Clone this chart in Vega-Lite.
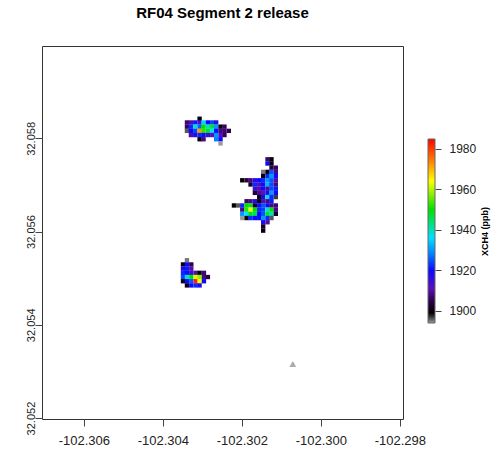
{
  "$schema": "https://vega.github.io/schema/vega-lite/v6.json",
  "width": 361,
  "height": 373,
  "autosize": {"type": "none"},
  "padding": {"left": 42, "top": 46, "right": 95, "bottom": 37},
  "background": "white",
  "title": {"text": "RF04 Segment 2 release", "fontSize": 15, "fontWeight": "bold", "font": "Liberation Sans", "color": "#000000", "anchor": "middle", "offset": 25},
  "config": {
    "view": {"stroke": "#333333", "strokeWidth": 1},
    "font": "Liberation Sans"
  },
  "resolve": {"scale": {"x": "independent", "y": "independent"}},
  "layer": [
    {
      "layer": [
        {
          "data": {"values": [
            {"lon": -102.30307, "lat": 32.05842, "xch4": 1899},
            {"lon": -102.30339, "lat": 32.05834, "xch4": 1907},
            {"lon": -102.30329, "lat": 32.05834, "xch4": 1910},
            {"lon": -102.30318, "lat": 32.05834, "xch4": 1921},
            {"lon": -102.30307, "lat": 32.05834, "xch4": 1913},
            {"lon": -102.30297, "lat": 32.05834, "xch4": 1935},
            {"lon": -102.30286, "lat": 32.05834, "xch4": 1920},
            {"lon": -102.30275, "lat": 32.05834, "xch4": 1924},
            {"lon": -102.30265, "lat": 32.05834, "xch4": 1916},
            {"lon": -102.30339, "lat": 32.05825, "xch4": 1906},
            {"lon": -102.30329, "lat": 32.05825, "xch4": 1922},
            {"lon": -102.30318, "lat": 32.05825, "xch4": 1938},
            {"lon": -102.30307, "lat": 32.05825, "xch4": 1926},
            {"lon": -102.30297, "lat": 32.05825, "xch4": 1950},
            {"lon": -102.30286, "lat": 32.05825, "xch4": 1940},
            {"lon": -102.30275, "lat": 32.05825, "xch4": 1948},
            {"lon": -102.30265, "lat": 32.05825, "xch4": 1930},
            {"lon": -102.30254, "lat": 32.05825, "xch4": 1900},
            {"lon": -102.30244, "lat": 32.05825, "xch4": 1906},
            {"lon": -102.30339, "lat": 32.05816, "xch4": 1896},
            {"lon": -102.30329, "lat": 32.05816, "xch4": 1920},
            {"lon": -102.30318, "lat": 32.05816, "xch4": 1924},
            {"lon": -102.30307, "lat": 32.05816, "xch4": 1972},
            {"lon": -102.30297, "lat": 32.05816, "xch4": 1952},
            {"lon": -102.30286, "lat": 32.05816, "xch4": 1947},
            {"lon": -102.30275, "lat": 32.05816, "xch4": 1936},
            {"lon": -102.30265, "lat": 32.05816, "xch4": 1920},
            {"lon": -102.30254, "lat": 32.05816, "xch4": 1908},
            {"lon": -102.30244, "lat": 32.05816, "xch4": 1907},
            {"lon": -102.30233, "lat": 32.05816, "xch4": 1905},
            {"lon": -102.30329, "lat": 32.05807, "xch4": 1910},
            {"lon": -102.30318, "lat": 32.05807, "xch4": 1918},
            {"lon": -102.30307, "lat": 32.05807, "xch4": 1922},
            {"lon": -102.30297, "lat": 32.05807, "xch4": 1920},
            {"lon": -102.30286, "lat": 32.05807, "xch4": 1915},
            {"lon": -102.30275, "lat": 32.05807, "xch4": 1912},
            {"lon": -102.30265, "lat": 32.05807, "xch4": 1930},
            {"lon": -102.30254, "lat": 32.05807, "xch4": 1912},
            {"lon": -102.30244, "lat": 32.05807, "xch4": 1906},
            {"lon": -102.30307, "lat": 32.05798, "xch4": 1900},
            {"lon": -102.30297, "lat": 32.05798, "xch4": 1908},
            {"lon": -102.30265, "lat": 32.05798, "xch4": 1928},
            {"lon": -102.30254, "lat": 32.05798, "xch4": 1920},
            {"lon": -102.30254, "lat": 32.05789, "xch4": 1894},

            {"lon": -102.30135, "lat": 32.05755, "xch4": 1907},
            {"lon": -102.30125, "lat": 32.05755, "xch4": 1900},
            {"lon": -102.30135, "lat": 32.05746, "xch4": 1920},
            {"lon": -102.30125, "lat": 32.05746, "xch4": 1900},
            {"lon": -102.30125, "lat": 32.05737, "xch4": 1904},
            {"lon": -102.30114, "lat": 32.05737, "xch4": 1906},
            {"lon": -102.30146, "lat": 32.05728, "xch4": 1895},
            {"lon": -102.30135, "lat": 32.05728, "xch4": 1900},
            {"lon": -102.30125, "lat": 32.05728, "xch4": 1925},
            {"lon": -102.30114, "lat": 32.05728, "xch4": 1908},
            {"lon": -102.30146, "lat": 32.05719, "xch4": 1900},
            {"lon": -102.30135, "lat": 32.05719, "xch4": 1922},
            {"lon": -102.30125, "lat": 32.05719, "xch4": 1930},
            {"lon": -102.30114, "lat": 32.05719, "xch4": 1920},
            {"lon": -102.30199, "lat": 32.05710, "xch4": 1899},
            {"lon": -102.30188, "lat": 32.05710, "xch4": 1904},
            {"lon": -102.30178, "lat": 32.05710, "xch4": 1908},
            {"lon": -102.30167, "lat": 32.05710, "xch4": 1917},
            {"lon": -102.30156, "lat": 32.05710, "xch4": 1920},
            {"lon": -102.30146, "lat": 32.05710, "xch4": 1922},
            {"lon": -102.30135, "lat": 32.05710, "xch4": 1930},
            {"lon": -102.30125, "lat": 32.05710, "xch4": 1925},
            {"lon": -102.30114, "lat": 32.05710, "xch4": 1910},
            {"lon": -102.30178, "lat": 32.05701, "xch4": 1902},
            {"lon": -102.30167, "lat": 32.05701, "xch4": 1922},
            {"lon": -102.30156, "lat": 32.05701, "xch4": 1912},
            {"lon": -102.30146, "lat": 32.05701, "xch4": 1920},
            {"lon": -102.30135, "lat": 32.05701, "xch4": 1932},
            {"lon": -102.30125, "lat": 32.05701, "xch4": 1924},
            {"lon": -102.30114, "lat": 32.05701, "xch4": 1908},
            {"lon": -102.30167, "lat": 32.05692, "xch4": 1915},
            {"lon": -102.30156, "lat": 32.05692, "xch4": 1910},
            {"lon": -102.30146, "lat": 32.05692, "xch4": 1920},
            {"lon": -102.30135, "lat": 32.05692, "xch4": 1909},
            {"lon": -102.30125, "lat": 32.05692, "xch4": 1924},
            {"lon": -102.30114, "lat": 32.05692, "xch4": 1921},
            {"lon": -102.30167, "lat": 32.05683, "xch4": 1903},
            {"lon": -102.30156, "lat": 32.05683, "xch4": 1909},
            {"lon": -102.30146, "lat": 32.05683, "xch4": 1911},
            {"lon": -102.30135, "lat": 32.05683, "xch4": 1918},
            {"lon": -102.30125, "lat": 32.05683, "xch4": 1930},
            {"lon": -102.30114, "lat": 32.05683, "xch4": 1920},
            {"lon": -102.30156, "lat": 32.05674, "xch4": 1900},
            {"lon": -102.30146, "lat": 32.05674, "xch4": 1918},
            {"lon": -102.30135, "lat": 32.05674, "xch4": 1937},
            {"lon": -102.30125, "lat": 32.05674, "xch4": 1922},
            {"lon": -102.30114, "lat": 32.05674, "xch4": 1897},
            {"lon": -102.30188, "lat": 32.05665, "xch4": 1906},
            {"lon": -102.30178, "lat": 32.05665, "xch4": 1908},
            {"lon": -102.30167, "lat": 32.05665, "xch4": 1918},
            {"lon": -102.30156, "lat": 32.05665, "xch4": 1900},
            {"lon": -102.30146, "lat": 32.05665, "xch4": 1910},
            {"lon": -102.30135, "lat": 32.05665, "xch4": 1908},
            {"lon": -102.30125, "lat": 32.05665, "xch4": 1921},
            {"lon": -102.30220, "lat": 32.05656, "xch4": 1899},
            {"lon": -102.30210, "lat": 32.05656, "xch4": 1896},
            {"lon": -102.30199, "lat": 32.05656, "xch4": 1922},
            {"lon": -102.30188, "lat": 32.05656, "xch4": 1950},
            {"lon": -102.30178, "lat": 32.05656, "xch4": 1948},
            {"lon": -102.30167, "lat": 32.05656, "xch4": 1902},
            {"lon": -102.30156, "lat": 32.05656, "xch4": 1920},
            {"lon": -102.30146, "lat": 32.05656, "xch4": 1925},
            {"lon": -102.30135, "lat": 32.05656, "xch4": 1920},
            {"lon": -102.30125, "lat": 32.05656, "xch4": 1908},
            {"lon": -102.30114, "lat": 32.05656, "xch4": 1907},
            {"lon": -102.30199, "lat": 32.05647, "xch4": 1908},
            {"lon": -102.30188, "lat": 32.05647, "xch4": 1952},
            {"lon": -102.30178, "lat": 32.05647, "xch4": 1963},
            {"lon": -102.30167, "lat": 32.05647, "xch4": 1950},
            {"lon": -102.30156, "lat": 32.05647, "xch4": 1922},
            {"lon": -102.30146, "lat": 32.05647, "xch4": 1924},
            {"lon": -102.30135, "lat": 32.05647, "xch4": 1938},
            {"lon": -102.30125, "lat": 32.05647, "xch4": 1950},
            {"lon": -102.30114, "lat": 32.05647, "xch4": 1908},
            {"lon": -102.30199, "lat": 32.05638, "xch4": 1930},
            {"lon": -102.30188, "lat": 32.05638, "xch4": 1936},
            {"lon": -102.30178, "lat": 32.05638, "xch4": 1948},
            {"lon": -102.30167, "lat": 32.05638, "xch4": 1946},
            {"lon": -102.30156, "lat": 32.05638, "xch4": 1920},
            {"lon": -102.30146, "lat": 32.05638, "xch4": 1925},
            {"lon": -102.30135, "lat": 32.05638, "xch4": 1948},
            {"lon": -102.30125, "lat": 32.05638, "xch4": 1940},
            {"lon": -102.30114, "lat": 32.05638, "xch4": 1902},
            {"lon": -102.30199, "lat": 32.05629, "xch4": 1894},
            {"lon": -102.30188, "lat": 32.05629, "xch4": 1900},
            {"lon": -102.30178, "lat": 32.05629, "xch4": 1922},
            {"lon": -102.30167, "lat": 32.05629, "xch4": 1920},
            {"lon": -102.30156, "lat": 32.05629, "xch4": 1920},
            {"lon": -102.30146, "lat": 32.05629, "xch4": 1930},
            {"lon": -102.30135, "lat": 32.05629, "xch4": 1922},
            {"lon": -102.30125, "lat": 32.05629, "xch4": 1896},
            {"lon": -102.30146, "lat": 32.05620, "xch4": 1918},
            {"lon": -102.30135, "lat": 32.05620, "xch4": 1910},
            {"lon": -102.30146, "lat": 32.05611, "xch4": 1902},
            {"lon": -102.30146, "lat": 32.05602, "xch4": 1900},

            {"lon": -102.30339, "lat": 32.055385, "xch4": 1895},
            {"lon": -102.30349, "lat": 32.055295, "xch4": 1900},
            {"lon": -102.30339, "lat": 32.055295, "xch4": 1920},
            {"lon": -102.30328, "lat": 32.055295, "xch4": 1905},
            {"lon": -102.30349, "lat": 32.055205, "xch4": 1918},
            {"lon": -102.30339, "lat": 32.055205, "xch4": 1921},
            {"lon": -102.30328, "lat": 32.055205, "xch4": 1910},
            {"lon": -102.30349, "lat": 32.055115, "xch4": 1922},
            {"lon": -102.30339, "lat": 32.055115, "xch4": 1920},
            {"lon": -102.30328, "lat": 32.055115, "xch4": 1915},
            {"lon": -102.30317, "lat": 32.055115, "xch4": 1910},
            {"lon": -102.30307, "lat": 32.055115, "xch4": 1900},
            {"lon": -102.30296, "lat": 32.055115, "xch4": 1907},
            {"lon": -102.30349, "lat": 32.055025, "xch4": 1924},
            {"lon": -102.30339, "lat": 32.055025, "xch4": 1938},
            {"lon": -102.30328, "lat": 32.055025, "xch4": 1950},
            {"lon": -102.30317, "lat": 32.055025, "xch4": 1962},
            {"lon": -102.30307, "lat": 32.055025, "xch4": 1958},
            {"lon": -102.30296, "lat": 32.055025, "xch4": 1908},
            {"lon": -102.30286, "lat": 32.055025, "xch4": 1904},
            {"lon": -102.30349, "lat": 32.054935, "xch4": 1901},
            {"lon": -102.30339, "lat": 32.054935, "xch4": 1920},
            {"lon": -102.30328, "lat": 32.054935, "xch4": 1925},
            {"lon": -102.30317, "lat": 32.054935, "xch4": 1982},
            {"lon": -102.30307, "lat": 32.054935, "xch4": 1964},
            {"lon": -102.30296, "lat": 32.054935, "xch4": 1920},
            {"lon": -102.30339, "lat": 32.054845, "xch4": 1900},
            {"lon": -102.30328, "lat": 32.054845, "xch4": 1920},
            {"lon": -102.30317, "lat": 32.054845, "xch4": 1922},
            {"lon": -102.30307, "lat": 32.054845, "xch4": 1918}
          ]},
          "mark": {"type": "square", "size": 19, "opacity": 1, "strokeWidth": 0, "filled": true},
          "encoding": {
            "x": {
              "field": "lon", "type": "quantitative",
              "scale": {"domain": [-102.30706, -102.29792], "nice": false, "zero": false},
              "axis": {
                "orient": "bottom", "title": null, "grid": false, "domain": false,
                "values": [-102.306, -102.304, -102.302, -102.300, -102.298],
                "labelExpr": "replace(format(datum.value, '.3f'), '\u2212', '-')",
                "tickSize": 7, "tickColor": "#444444", "labelPadding": 8,
                "labelFontSize": 13, "labelColor": "#222222", "labelFont": "Liberation Sans"
              }
            },
            "y": {
              "field": "lat", "type": "quantitative",
              "scale": {"domain": [32.05198, 32.05998], "nice": false, "zero": false},
              "axis": {
                "orient": "left", "title": null, "grid": false, "domain": false,
                "values": [32.052, 32.054, 32.056, 32.058],
                "format": ".3f",
                "labelAngle": -90, "labelAlign": "center", "labelBaseline": "alphabetic",
                "tickSize": 7, "tickColor": "#444444", "labelPadding": 1,
                "labelFontSize": 11, "labelColor": "#222222", "labelFont": "Liberation Sans"
              }
            },
            "color": {
              "field": "xch4", "type": "quantitative",
              "scale": {
                "domain": [1894, 1896.5, 1899, 1905, 1911, 1920, 1928, 1936, 1950, 1964, 1972, 1984.8],
                "range": ["#9a9a9a", "#474747", "#000000", "#300050", "#5a10b8", "#0a0aff", "#0080ff", "#00e0ff", "#00e000", "#ffff00", "#ff9900", "#ff0000"],
                "interpolate": "rgb", "clamp": true
              },
              "legend": null
            }
          }
        },
        {
          "data": {"values": [{"lon": -102.30071, "lat": 32.05316}]},
          "mark": {"type": "point", "shape": "triangle-up", "size": 45, "filled": true, "color": "#aaaaaa", "opacity": 1},
          "encoding": {
            "x": {"field": "lon", "type": "quantitative"},
            "y": {"field": "lat", "type": "quantitative"}
          }
        }
      ]
    },
    {
      "data": {"values": [{"lo": 1894, "hi": 1984.8}]},
      "mark": {
        "type": "rect", "stroke": "#666666", "strokeWidth": 1,
        "fill": {
          "gradient": "linear", "x1": 0, "y1": 1, "x2": 0, "y2": 0,
          "stops": [
            {"offset": 0, "color": "#9a9a9a"},
            {"offset": 0.0275, "color": "#474747"},
            {"offset": 0.0551, "color": "#000000"},
            {"offset": 0.1211, "color": "#300050"},
            {"offset": 0.1872, "color": "#5a10b8"},
            {"offset": 0.2863, "color": "#0a0aff"},
            {"offset": 0.3744, "color": "#0080ff"},
            {"offset": 0.4626, "color": "#00e0ff"},
            {"offset": 0.6167, "color": "#00e000"},
            {"offset": 0.7709, "color": "#ffff00"},
            {"offset": 0.859, "color": "#ff9900"},
            {"offset": 1, "color": "#ff0000"}
          ]
        }
      },
      "encoding": {
        "x": {"datum": 0, "type": "quantitative", "scale": {"domain": [0, 1], "range": [386, 393], "nice": false, "zero": false}, "axis": null},
        "x2": {"datum": 1},
        "y": {
          "field": "lo", "type": "quantitative",
          "scale": {"domain": [1894, 1984.8], "range": [277, 93], "nice": false, "zero": false},
          "axis": {
            "orient": "right", "offset": 32, "grid": false, "domain": false,
            "values": [1900, 1920, 1940, 1960, 1980], "format": "d",
            "tickSize": 6, "tickColor": "#444444", "labelPadding": 8,
            "labelFontSize": 12, "labelColor": "#222222", "labelFont": "Liberation Sans",
            "title": "XCH4 (ppb)", "titleAngle": 270, "titleFontSize": 9, "titleFontWeight": "bold",
            "titleColor": "#000000", "titleFont": "Liberation Sans",
            "titleX": 49, "titleY": 185, "titleAlign": "center", "titleBaseline": "middle"
          }
        },
        "y2": {"field": "hi"}
      }
    }
  ]
}
